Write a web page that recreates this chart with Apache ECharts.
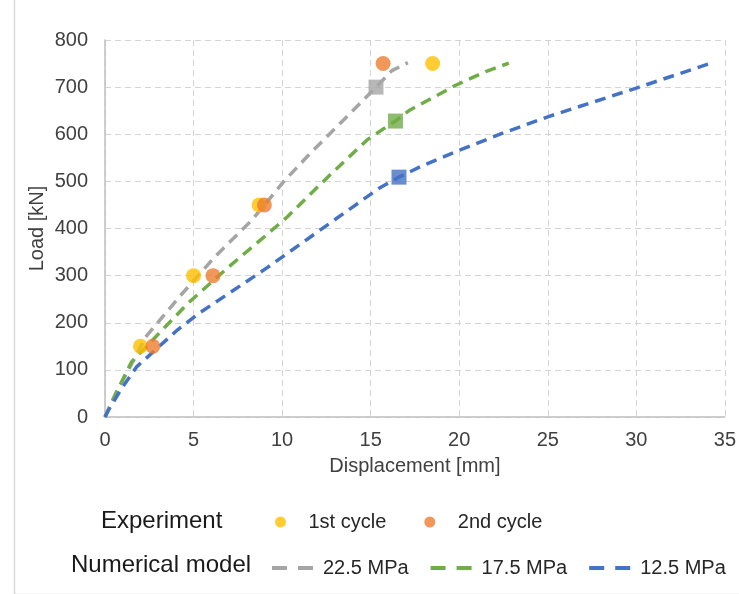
<!DOCTYPE html>
<html><head><meta charset="utf-8">
<script src="https://cdn.jsdelivr.net/npm/echarts@6/dist/echarts.min.js"></script>
<style>html,body{margin:0;padding:0;background:#fff}#c{width:739px;height:594px}</style>
</head><body><div id="c"></div>
<script>
const xTicks = [0, 5, 10, 15, 20, 25, 30, 35];
const yTicks = [0, 100, 200, 300, 400, 500, 600, 700, 800];
const exp1 = [[2.0, 150], [5.0, 300], [8.7, 450], [18.5, 750]];
const exp2 = [[2.7, 150], [6.1, 300], [9.0, 450], [15.7, 750]];
const model225 = [[0,0],[0.6,50],[1.4,105],[2.3,170],[4.2,255],[6.2,340],[8.3,418],[10.1,500],[11.6,560],[13.3,624],[14.6,673],[15.3,700],[16.2,735],[17.1,752]];
const model175 = [[0,0],[0.8,64],[1.5,117],[3.6,199],[4.7,242],[7.0,319],[9.2,389],[10.3,425],[12.6,510],[14.8,588],[15.9,616],[16.4,628],[17.2,651],[19.8,704],[21.5,733],[22.8,751]];
const model125 = [[0,0],[0.2,15],[1.0,64],[1.8,107],[4.1,185],[5.3,220],[7.7,280],[9.2,318],[10.1,342],[11.6,382],[14.0,446],[15.5,486],[16.6,509],[17.8,531],[19.8,563],[22.5,603],[25,637],[30,698],[34.3,752]];
const peak225 = [[15.3, 700]];
const peak175 = [[16.4, 628]];
const peak125 = [[16.6, 509]];
const names = ['1st cycle', '2nd cycle', '22.5 MPa', '17.5 MPa', '12.5 MPa'];
const colors = {'1st cycle':'#FFC000','2nd cycle':'#ED7D31','22.5 MPa':'#A5A5A5','17.5 MPa':'#70AD47','12.5 MPa':'#4472C4'};

const chart = echarts.init(document.getElementById('c'));
const font = 'Liberation Sans, Arial, sans-serif';
const lineS = (name, data) => ({
  name, type: 'line', data, symbol: 'none', smooth: false,
  lineStyle: {color: colors[name], width: 3.5, type: [11, 7]}, itemStyle: {color: colors[name]}, z: 2
});
const sq = (name, data) => ({
  type: 'scatter', data, symbol: 'rect', symbolSize: 15, itemStyle: {color: colors[name]}, z: 3
});
const dot = (name, data) => ({
  name, type: 'scatter', data, symbol: 'circle', symbolSize: 15, itemStyle: {color: colors[name]}, z: 4
});
const dashIcon = 'path://M0,0h15v4h-15zM26,0h15v4h-15z';
chart.setOption({
  animation: false,
  textStyle: {fontFamily: font},
  grid: {left: 105, right: 7, top: 40, bottom: 177},
  xAxis: {
    type: 'value', min: 0, max: 35, interval: 5,
    name: 'Displacement [mm]', nameLocation: 'middle', nameGap: 39,
    nameTextStyle: {fontSize: 20, color: '#404040', fontFamily: font},
    axisLine: {lineStyle: {color: '#bfbfbf', width: 1.5}},
    axisTick: {show: false},
    axisLabel: {fontSize: 20, color: '#404040', margin: 13, formatter: v => xTicks.includes(v) ? String(v) : ''},
    splitLine: {show: true, lineStyle: {color: '#d4d4d4', type: [6, 4]}}
  },
  yAxis: {
    type: 'value', min: 0, max: 800, interval: 100,
    name: 'Load [kN]', nameLocation: 'middle', nameGap: 58, nameMoveOverlap: false,
    nameTextStyle: {fontSize: 20, color: '#404040', fontFamily: font},
    axisLine: {show: true, lineStyle: {color: '#bfbfbf', width: 1.5}},
    axisTick: {show: false},
    axisLabel: {fontSize: 20, color: '#404040', margin: 17, formatter: v => yTicks.includes(v) ? String(v) : ''},
    splitLine: {show: true, lineStyle: {color: '#d4d4d4', type: [6, 4]}}
  },
  legend: [
    {data: [{name: names[0], icon: 'circle'}, {name: names[1], icon: 'circle'}],
     left: 270, top: 507, itemWidth: 46, itemHeight: 11, itemGap: 38,
     textStyle: {fontSize: 20, color: '#262626', fontFamily: font}},
    {data: [{name: names[2], icon: dashIcon}, {name: names[3], icon: dashIcon}, {name: names[4], icon: dashIcon}],
     left: 267, top: 553, itemWidth: 41, itemHeight: 4, itemGap: 22,
     textStyle: {fontSize: 20, color: '#262626', fontFamily: font, padding: [0, 0, 0, 5]}}
  ],
  graphic: [
    {type: 'rect', left: 12, top: -5, shape: {width: 740, height: 597}, style: {fill: 'none', stroke: '#d9d9d9', lineWidth: 1.5}, silent: true},
    {type: 'text', x: 101, y: 521, style: {text: 'Experiment', font: '24px ' + font, fill: '#1a1a1a', verticalAlign: 'middle'}},
    {type: 'text', x: 71, y: 565, style: {text: 'Numerical model', font: '24px ' + font, fill: '#1a1a1a', verticalAlign: 'middle'}}
  ],
  series: [
    lineS('22.5 MPa', model225), lineS('17.5 MPa', model175), lineS('12.5 MPa', model125),
    sq('22.5 MPa', peak225), sq('17.5 MPa', peak175), sq('12.5 MPa', peak125),
    dot('1st cycle', exp1), dot('2nd cycle', exp2)
  ]
});
</script></body></html>
